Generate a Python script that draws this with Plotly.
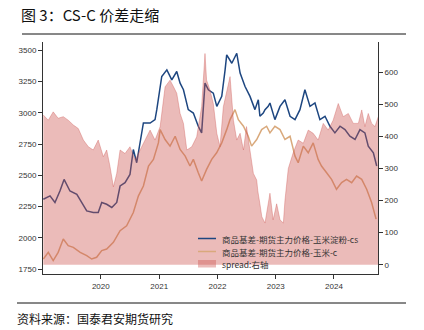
import plotly.graph_objects as go

# ---- data ----
cs_dates = ["2019-01-06","2019-02-17","2019-03-20","2019-04-20","2019-05-16","2019-06-22","2019-08-04","2019-09-04",
            "2019-10-05","2019-11-15","2019-12-16","2020-01-07","2020-02-07","2020-03-10","2020-04-10","2020-05-01",
            "2020-06-01","2020-07-02","2020-07-23","2020-08-13","2020-09-03","2020-09-24","2020-11-05","2020-12-06",
            "2020-12-17","2021-01-07","2021-01-17","2021-02-18","2021-03-21","2021-04-21","2021-05-12","2021-06-02",
            "2021-07-02","2021-08-03","2021-09-03","2021-09-24","2021-10-15","2021-11-05","2021-12-06","2021-12-28",
            "2022-01-28","2022-02-18","2022-02-28","2022-04-01","2022-05-02","2022-05-23","2022-06-23","2022-07-24",
            "2022-08-24","2022-09-14","2022-09-24","2022-10-15","2022-10-26","2022-11-15","2022-11-26","2022-12-27",
            "2023-01-28","2023-02-28","2023-04-01","2023-05-02","2023-06-02","2023-07-03","2023-08-04","2023-09-04",
            "2023-10-05","2023-11-06","2023-12-07","2024-01-07","2024-02-08","2024-03-10","2024-04-10","2024-05-12",
            "2024-06-12","2024-07-13","2024-08-03","2024-09-04","2024-09-25"]
cs_values = [2308,2335,2282,2374,2467,2374,2348,2282,
             2215,2202,2202,2282,2268,2242,2282,2414,
             2441,2507,2706,2600,2759,2918,2918,2945,
             3025,3237,3290,3343,3263,3330,3237,3184,
             3025,2998,2892,2839,3237,3184,3157,3051,
             3131,3343,3463,3396,3476,3317,3210,3131,
             3025,3104,2972,2998,3025,3051,3078,2945,
             3051,3104,2972,2945,3025,3184,3051,3078,
             2945,2972,2892,2839,2892,2865,2812,2786,
             2865,2839,2733,2680,2574]

c_dates = ["2019-01-06","2019-02-06","2019-03-09","2019-04-09","2019-05-11","2019-06-11","2019-07-13","2019-08-25",
           "2019-10-05","2019-11-05","2019-12-06","2020-01-07","2020-02-07","2020-03-20","2020-05-01","2020-06-11",
           "2020-07-23","2020-08-24","2020-09-24","2020-10-26","2020-11-26","2020-12-27","2021-01-07","2021-02-07",
           "2021-03-10","2021-04-11","2021-05-12","2021-06-13","2021-07-13","2021-08-03","2021-09-03","2021-09-24",
           "2021-10-25","2021-11-26","2021-12-27","2022-01-28","2022-02-28","2022-03-21","2022-04-21","2022-05-12",
           "2022-06-13","2022-07-13","2022-08-03","2022-09-04","2022-10-05","2022-11-05","2022-11-26","2022-12-27",
           "2023-01-28","2023-02-28","2023-04-01","2023-05-02","2023-05-22","2023-06-23","2023-07-24","2023-08-24",
           "2023-09-24","2023-10-15","2023-11-16","2023-12-17","2024-01-17","2024-02-18","2024-03-20","2024-04-21",
           "2024-05-22","2024-06-23","2024-07-24","2024-08-24","2024-09-21"]
c_values = [1830,1883,1817,1883,1990,1937,1923,1883,
            1857,1830,1844,1897,1910,1963,2056,2096,
            2202,2335,2414,2574,2627,2759,2865,2786,
            2733,2812,2706,2653,2574,2627,2520,2454,
            2547,2627,2680,2759,2865,2945,3025,2945,
            2892,2812,2733,2786,2865,2892,2839,2892,
            2865,2786,2812,2653,2600,2733,2680,2759,
            2627,2574,2520,2467,2388,2441,2467,2441,
            2494,2467,2388,2282,2149]

spread_dates = ["2019-01-06","2019-02-06","2019-03-09","2019-04-09","2019-05-11","2019-06-11","2019-07-13","2019-08-13",
                "2019-09-14","2019-10-15","2019-11-15","2019-12-16","2020-01-17","2020-02-07","2020-02-28","2020-03-20",
                "2020-04-10","2020-05-01","2020-06-01","2020-07-02","2020-08-03","2020-09-03","2020-10-05","2020-11-05",
                "2020-12-06","2021-01-07","2021-02-07","2021-03-10","2021-04-01","2021-04-21","2021-05-12","2021-06-02",
                "2021-06-23","2021-07-24","2021-08-24","2021-09-24","2021-10-15","2021-10-25","2021-11-15","2021-12-06",
                "2021-12-28","2022-01-17","2022-02-07","2022-02-28","2022-03-21","2022-04-11","2022-05-02","2022-05-23",
                "2022-06-13","2022-07-02","2022-07-24","2022-08-14","2022-09-04","2022-09-11","2022-09-24","2022-10-06",
                "2022-10-26","2022-11-15","2022-11-26","2022-12-16","2023-01-07","2023-01-28","2023-02-18","2023-02-28",
                "2023-03-21","2023-04-21","2023-05-22","2023-06-23","2023-07-24","2023-08-24","2023-09-24","2023-10-26",
                "2023-11-26","2023-12-27","2024-01-28","2024-02-28","2024-03-31","2024-05-01","2024-06-02","2024-06-23",
                "2024-07-13","2024-08-03","2024-08-24","2024-09-14","2024-10-05"]
spread_values = [467,451,477,457,462,451,436,425,
                 389,368,358,389,337,358,306,243,
                 285,358,347,368,327,358,389,420,
                 389,431,555,576,555,535,472,441,
                 358,368,399,493,659,576,545,503,
                 410,368,493,545,587,451,389,410,
                 358,431,358,285,264,230,190,150,
                 130,200,223,140,190,140,130,200,
                 300,350,389,379,420,410,389,441,
                 420,451,503,462,472,441,441,483,
                 431,472,441,431,462]

name_cs = "商品基差-期货主力价格-玉米淀粉-cs"
name_c = "商品基差-期货主力价格-玉米-c"
name_sp = "spread:右轴"

CS_COLOR = "#1d4680"
C_COLOR = "#d9a97c"
SP_FILL = "rgba(205,85,80,0.40)"

fig = go.Figure()
fig.add_trace(go.Scatter(x=cs_dates, y=cs_values, name=name_cs, mode="lines",
                         line=dict(color=CS_COLOR, width=1.5)))
fig.add_trace(go.Scatter(x=c_dates, y=c_values, name=name_c, mode="lines",
                         line=dict(color=C_COLOR, width=1.5)))
fig.add_trace(go.Scatter(x=spread_dates, y=spread_values, name=name_sp, mode="lines",
                         fill="tozeroy", fillcolor=SP_FILL,
                         line=dict(color="rgba(205,85,80,0.45)", width=0.8),
                         yaxis="y2"))

tickfont = dict(family="Liberation Sans, Arial, sans-serif", size=8, color="#333333")

fig.update_layout(
    width=424, height=330,
    margin=dict(l=43, r=46, t=42, b=56),
    paper_bgcolor="white", plot_bgcolor="white",
    showlegend=False,
    xaxis=dict(range=["2019-01-04", "2024-10-03"], showgrid=False, zeroline=False,
               showline=True, linecolor="#333333", linewidth=1,
               ticks="outside", ticklen=4, tickcolor="#333333",
               tickvals=["2020-01-01","2021-01-01","2022-01-01","2023-01-01","2024-01-01"],
               ticktext=["2020","2021","2022","2023","2024"], tickfont=tickfont),
    yaxis=dict(range=[1710, 3566], showgrid=False, zeroline=False,
               showline=True, linecolor="#333333", linewidth=1,
               ticks="outside", ticklen=4, tickcolor="#333333",
               tickvals=[1750,2000,2250,2500,2750,3000,3250,3500], tickfont=tickfont),
    yaxis2=dict(range=[-29, 695], overlaying="y", side="right", showgrid=False, zeroline=False,
                showline=True, linecolor="#333333", linewidth=1,
                ticks="outside", ticklen=4, tickcolor="#333333",
                tickvals=[0,100,200,300,400,500,600], tickfont=tickfont),
)

PW, PH, L, B = 335.0, 232.0, 43.0, 274.0
def px(xp):
    return (xp - L) / PW
def py(yp):
    return (B - yp) / PH

# manual legend (compact, like the reference)
legend_font = dict(family="Noto Sans CJK SC, sans-serif", size=8.5, color="#333333")
fig.add_shape(type="line", xref="paper", yref="paper", x0=px(198), x1=px(216), y0=py(238.5), y1=py(238.5),
              line=dict(color=CS_COLOR, width=1.5))
fig.add_shape(type="line", xref="paper", yref="paper", x0=px(198), x1=px(216), y0=py(251.5), y1=py(251.5),
              line=dict(color=C_COLOR, width=1.5))
fig.add_shape(type="rect", xref="paper", yref="paper", x0=px(198), x1=px(216), y0=py(260), y1=py(267.5),
              line=dict(width=0), fillcolor=SP_FILL)
for label, ypix in [(name_cs, 238.5), (name_c, 251.5), (name_sp, 264)]:
    fig.add_annotation(xref="paper", yref="paper", x=px(221), y=py(ypix), xanchor="left", yanchor="middle",
                       showarrow=False, text=label, font=legend_font, borderpad=0)

# title and source text
fig.add_annotation(xref="paper", yref="paper", x=px(19), y=py(14),
                   xanchor="left", yanchor="middle", showarrow=False,
                   text="图 3：CS-C 价差走缩",
                   font=dict(family="Noto Sans CJK SC, sans-serif", size=15, color="#111111"))
fig.add_annotation(xref="paper", yref="paper", x=px(15), y=py(318),
                   xanchor="left", yanchor="middle", showarrow=False,
                   text="资料来源：国泰君安期货研究",
                   font=dict(family="Noto Sans CJK SC, sans-serif", size=12, color="#111111"))
# header / footer rules
fig.add_shape(type="line", xref="paper", yref="paper",
              x0=px(22), x1=px(406), y0=py(34), y1=py(34),
              line=dict(color="#111111", width=1))
fig.add_shape(type="line", xref="paper", yref="paper",
              x0=px(17), x1=px(406), y0=py(303), y1=py(303),
              line=dict(color="#111111", width=1))

fig.write_html("out.html")
